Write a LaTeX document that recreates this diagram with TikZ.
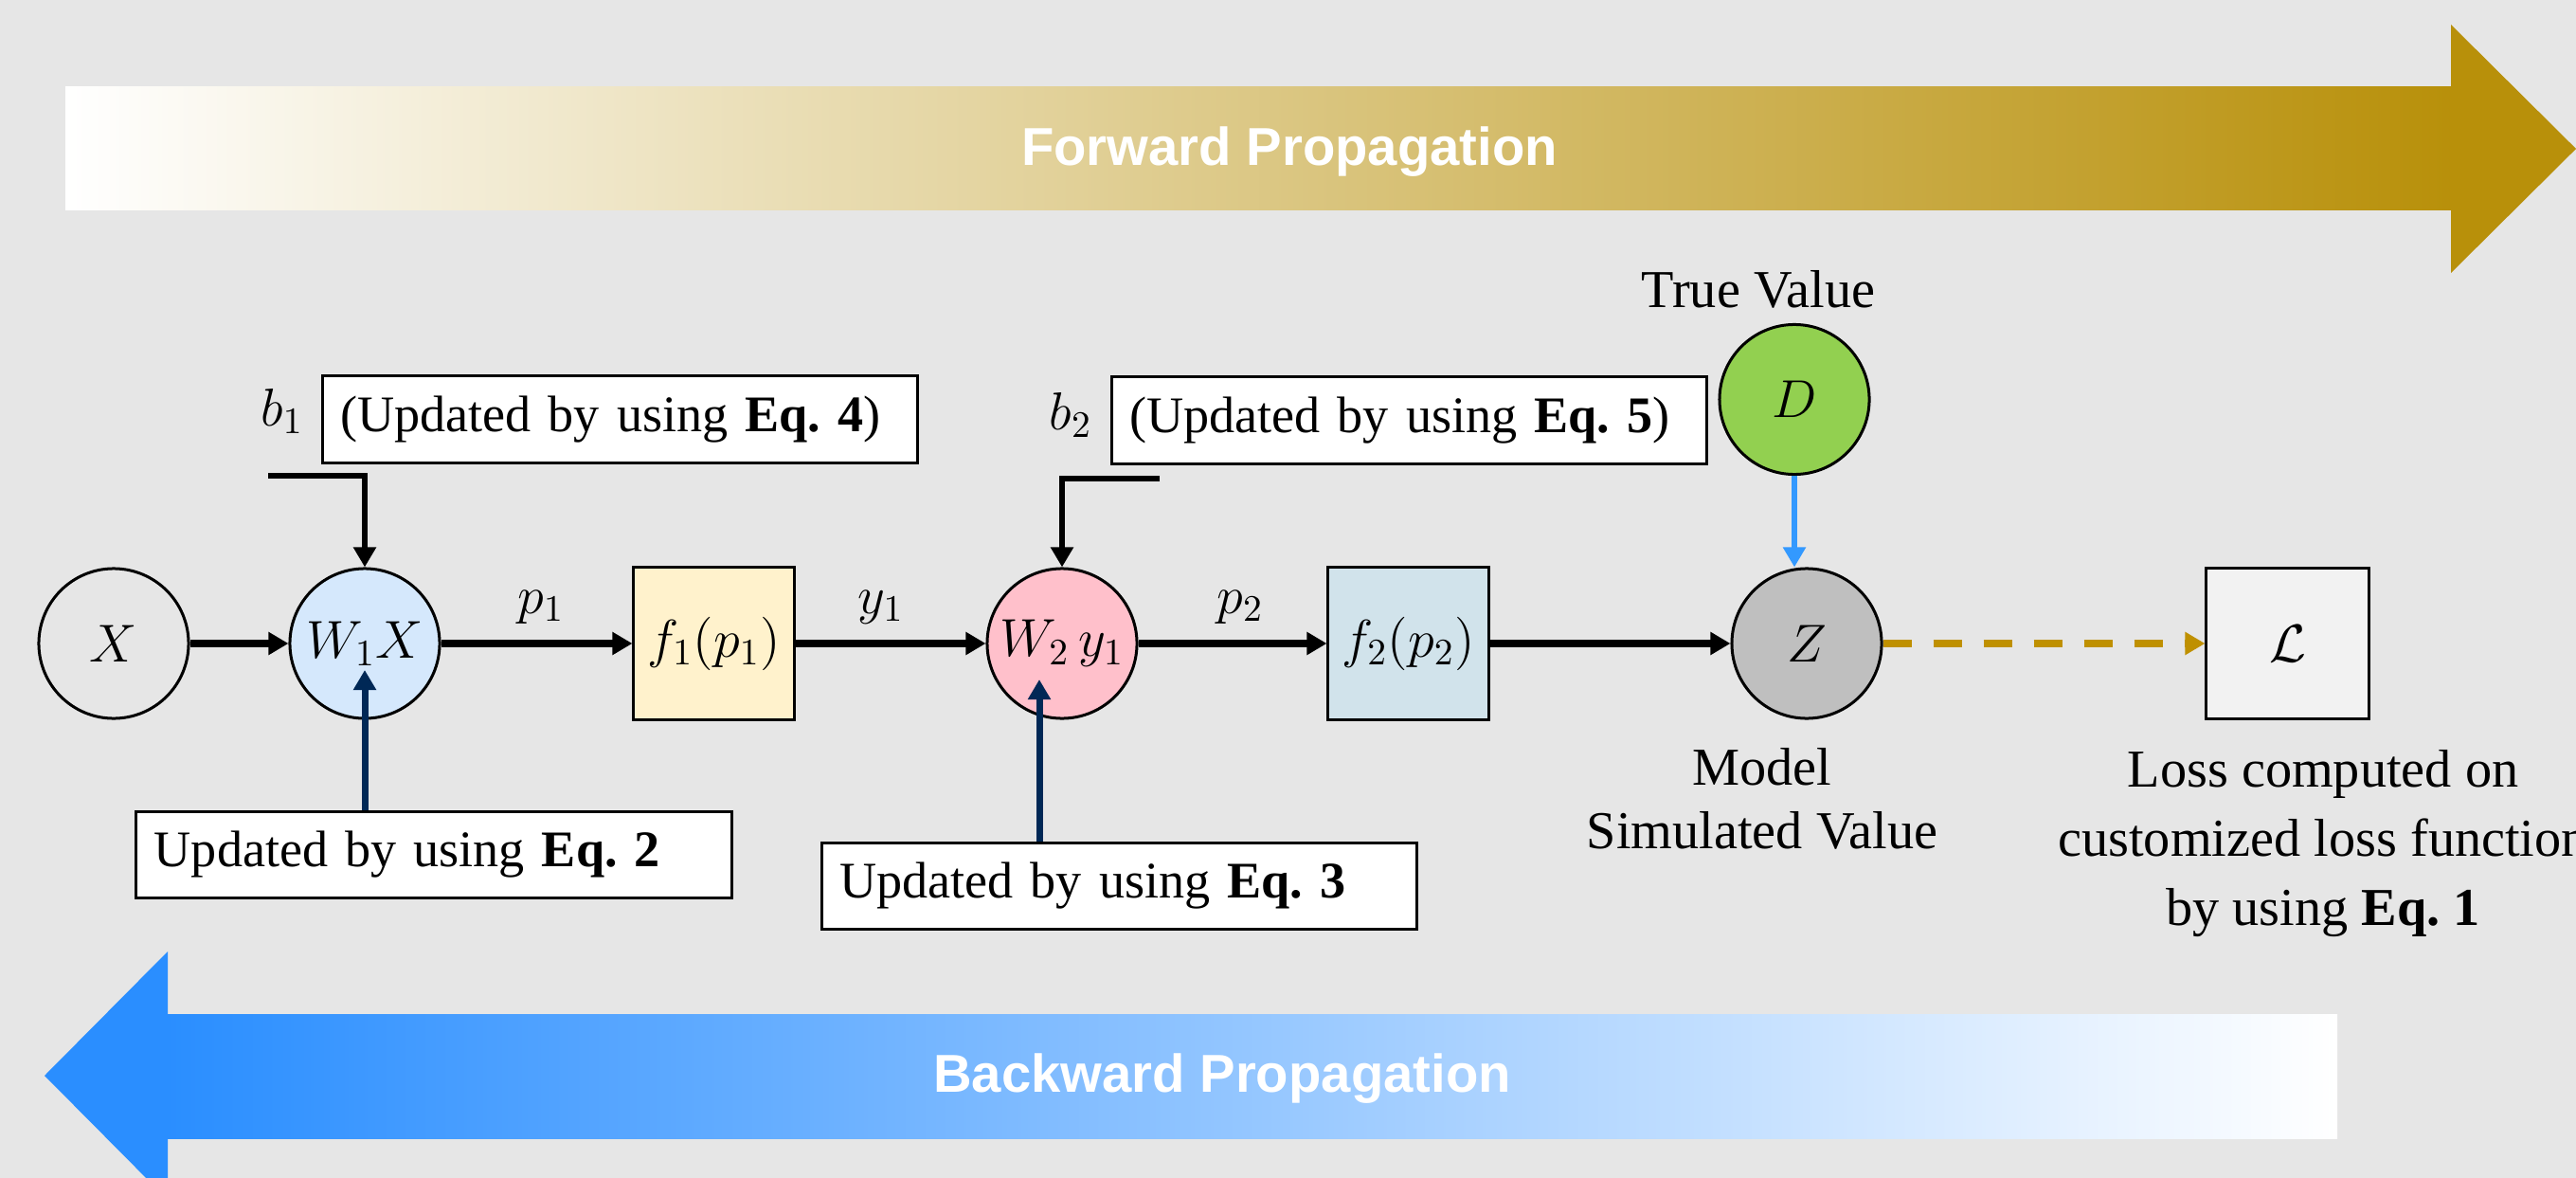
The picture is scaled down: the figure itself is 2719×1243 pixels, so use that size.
\RequirePackage{fix-cm}
\documentclass[tikz,border=0pt]{standalone}
\usepackage{fontspec}
\setmainfont{Liberation Serif}
\newfontfamily\bannerfont{Liberation Sans}
\usetikzlibrary{arrows.meta}
\frenchspacing

\definecolor{bgcol}{HTML}{E6E6E6}
\definecolor{fwdgold}{HTML}{B8900A}
\definecolor{bwdblue}{HTML}{2A8EFF}
\definecolor{wonefill}{HTML}{D5E8FC}
\definecolor{fonefill}{HTML}{FFF2CC}
\definecolor{wtwofill}{HTML}{FFC0CB}
\definecolor{ftwofill}{HTML}{D1E3EB}
\definecolor{zfill}{HTML}{BFBFBF}
\definecolor{dfill}{HTML}{92D050}
\definecolor{lossfill}{HTML}{F2F2F2}
\definecolor{updnavy}{HTML}{002856}
\definecolor{truecol}{HTML}{3399FF}
\definecolor{dashcol}{HTML}{BF9000}

\begin{document}
\begin{tikzpicture}[
  x=0.01cm, y=-0.01cm,
  font=\fontsize{16}{19}\selectfont,
  tip/.style={-{Triangle[length=0.21cm,width=0.23cm]}},
  flow/.style={tip, line width=0.075cm, black},
  upd/.style={tip, line width=0.07cm, updnavy},
  circ/.style={circle, draw, line width=0.03cm, minimum size=1.58cm, inner sep=0pt},
  sq/.style={rectangle, draw, line width=0.03cm, minimum width=1.69cm, minimum height=1.6cm, inner sep=0pt},
  note/.style={rectangle, draw, fill=white, line width=0.03cm, minimum height=0.91cm,
               text width=5.9cm, align=left, inner xsep=0.19cm, inner ysep=0pt,
               font=\fontsize{15.4}{18}\selectfont},
  banner/.style={text=white, font=\fontsize{16}{19}\selectfont\bannerfont\bfseries}
]
\useasboundingbox (0,0) rectangle (2719,1243);
\fill[bgcol] (0,0) rectangle (2719,1243);

% forward propagation banner
\shade[left color=white, right color=fwdgold] (69,92) rectangle (2589,222);
\fill[fwdgold] (2587,26) -- (2719,157) -- (2587,288) -- cycle;
\node[banner] (fwdtext) at (1361,160) {Forward Propagation};

% backward propagation banner
\shade[left color=bwdblue, right color=white] (175,1070) rectangle (2467,1201);
\fill[bwdblue] (177,1004) -- (47,1135) -- (177,1266) -- cycle;
\node[banner] (bwdtext) at (1290,1138) {Backward Propagation};

% network nodes
\node[circ] (xin) at (120,679) {$X$};
\node[circ, fill=wonefill] (wone) at (385,679) {$W_1X$};
\node[sq, fill=fonefill] (fone) at (753.5,679) {$f_1(p_1)$};
\node[circ, fill=wtwofill] (wtwo) at (1121,679) {$W_2\,y_1$};
\node[sq, fill=ftwofill] (ftwo) at (1486.5,679) {$f_2(p_2)$};
\node[circ, fill=zfill] (zout) at (1907,679) {$Z$};
\node[circ, fill=dfill] (dtrue) at (1894,421.5) {$D$};
\node[sq, fill=lossfill, minimum width=1.71cm, minimum height=1.59cm] (loss) at (2414.5,679) {$\mathcal{L}$};

% update notes
\node[note] (bonebox) at (654.5,442.5) {(Updated by using \textbf{Eq. 4})};
\node[note] (btwobox) at (1487.5,443.5) {(Updated by using \textbf{Eq. 5})};
\node[note] (eqtwo) at (458,902) {Updated by using \textbf{Eq. 2}};
\node[note] (eqthree) at (1181.5,935) {Updated by using \textbf{Eq. 3}};

% labels
\node[anchor=base] (bonelabel) at (298,449) {$b_1$};
\node[anchor=base] (btwolabel) at (1130,453) {$b_2$};
\node[anchor=base] (plabel) at (571,647) {$p_1$};
\node[anchor=base] (ylabel) at (930,647) {$y_1$};
\node[anchor=base] (qlabel) at (1309,647) {$p_2$};
\node[anchor=base] (truelabel) at (1856,324) {True Value};
\node[align=center, inner sep=0pt, font=\fontsize{16}{19}\selectfont] (modellabel) at (1860,843) {Model\\Simulated Value};
\node[align=center, inner sep=0pt, font=\fontsize{16}{20.7}\selectfont] (losslabel) at (2452,890)
  {Loss computed on\\customized loss function\\by using \textbf{Eq. 1}};

% forward connectors
\draw[flow] (xin) -- (wone);
\draw[flow] (wone) -- (fone);
\draw[flow] (fone) -- (wtwo);
\draw[flow] (wtwo) -- (ftwo);
\draw[flow] (ftwo) -- (zout);

% bias inputs
\coordinate (bonestart) at (283,502);
\coordinate (btwostart) at (1224,505);
\draw[flow, line width=0.065cm] (bonestart) -| (wone.north);
\draw[flow, line width=0.065cm] (btwostart) -| (wtwo.north);

% weight updates
\coordinate (wonetip) at ([yshift=-0.28cm]wone.center);
\coordinate (wtwotip) at ([xshift=-0.24cm,yshift=-0.38cm]wtwo.center);
\draw[upd] (eqtwo.north -| wonetip) -- (wonetip);
\draw[upd] (eqthree.north -| wtwotip) -- (wtwotip);

% true value and loss
\draw[tip, line width=0.055cm, truecol] (dtrue.south) -- (dtrue.south |- zout.north);
\draw[tip, line width=0.08cm, dashcol, dash pattern=on 0.3cm off 0.23cm] (zout) -- (loss);
\end{tikzpicture}
\end{document}
